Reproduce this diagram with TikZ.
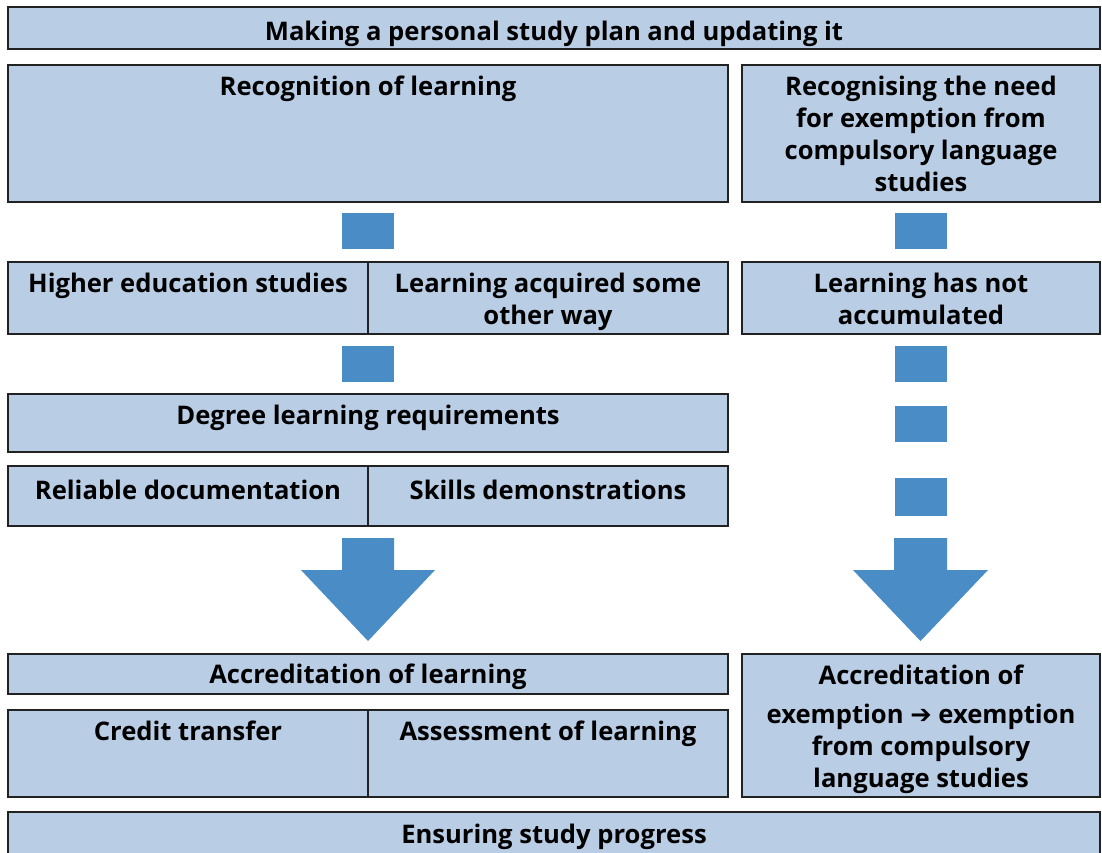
\documentclass[tikz,border=0pt]{standalone}
\usepackage{fontspec}
\setmainfont{Open Sans}
\newfontfamily\symfont{DejaVu Sans}
\usepackage{tikz}

\definecolor{boxfill}{HTML}{B9CDE5}
\definecolor{boxline}{HTML}{222222}
\definecolor{flowblue}{HTML}{4A8CC5}

\begin{document}
\begin{tikzpicture}[x=1pt, y=-1pt,
    box/.style={draw=boxline, line width=2pt, fill=boxfill, shape=rectangle, inner sep=0pt},
    txt/.style={anchor=base, align=center, inner sep=0pt, font=\bfseries\fontsize{25.6}{32}\selectfont},
    blk/.style={fill=flowblue, shape=rectangle, inner sep=0pt, minimum width=52pt}]
            \clip (0,0) rectangle (1102,852);
            \fill[white] (0,0) rectangle (1102,852);
            % top row
            \node[box, minimum width=1092pt, minimum height=42pt] (plan) at (554,28) {};
            \node[txt] (plan-t) at (554,40) {Making a personal study plan and updating it};
            % recognition
            \node[box, minimum width=720pt, minimum height=137pt] (recog) at (368,133.5) {};
            \node[txt] (recog-t) at (368,95) {Recognition of learning};
            \node[box, minimum width=358pt, minimum height=137pt] (need) at (921,133.5) {};
            \node[txt] (need-t) at (921,191) {Recognising the need\\for exemption from\\compulsory language\\studies};
            \node[blk, minimum height=36pt] (sq1) at (368,231) {};
            \node[blk, minimum height=36pt] (sq2) at (920.5,231) {};
            % kinds of learning
            \node[box, minimum width=360pt, minimum height=72pt] (hes) at (188,298) {};
            \node[txt] (hes-t) at (188,292) {Higher education studies};
            \node[box, minimum width=360pt, minimum height=72pt] (other) at (548,298) {};
            \node[txt] (other-t) at (548,324) {Learning acquired some\\other way};
            \node[box, minimum width=358pt, minimum height=72pt] (notacc) at (921,298) {};
            \node[txt] (notacc-t) at (921,324) {Learning has not\\accumulated};
            \node[blk, minimum height=36pt] (sq3) at (368,364) {};
            \node[blk, minimum height=36pt] (sq4) at (920.5,364) {};
            % requirements
            \node[box, minimum width=720pt, minimum height=58pt] (degree) at (368,423) {};
            \node[txt] (degree-t) at (368,424) {Degree learning requirements};
            \node[blk, minimum height=36pt] (sq5) at (920.5,424) {};
            \node[box, minimum width=360pt, minimum height=60pt] (reldoc) at (188,496) {};
            \node[txt] (reldoc-t) at (188,499) {Reliable documentation};
            \node[box, minimum width=360pt, minimum height=60pt] (skills) at (548,496) {};
            \node[txt] (skills-t) at (548,499) {Skills demonstrations};
            \node[blk, minimum height=38pt] (sq6) at (920.5,497) {};
            % big arrows
            \fill[flowblue] (342,538) -- (394,538) -- (394,570) -- (435,570) -- (368,641)
                -- (301,570) -- (342,570) -- cycle;
            \fill[flowblue] (894,538) -- (947,538) -- (947,570) -- (988,570) -- (920.5,641)
                -- (853,570) -- (894,570) -- cycle;
            % accreditation
            \node[box, minimum width=720pt, minimum height=40pt] (accr) at (368,674) {};
            \node[txt] (accr-t) at (368,683) {Accreditation of learning};
            \node[box, minimum width=360pt, minimum height=87pt] (credit) at (188,753.5) {};
            \node[txt] (credit-t) at (188,740) {Credit transfer};
            \node[box, minimum width=360pt, minimum height=87pt] (assess) at (548,753.5) {};
            \node[txt] (assess-t) at (548,740) {Assessment of learning};
            \node[box, minimum width=358pt, minimum height=143pt] (exempt) at (921,725.5) {};
            \node[txt] (exempt-t) at (921,787) {Accreditation of\\[7pt]exemption {\symfont\bfseries ➔} exemption\\from compulsory\\language studies};
            % bottom row
            \node[box, minimum width=1092pt, minimum height=52pt] (progress) at (554,838) {};
            \node[txt] (progress-t) at (554,843) {Ensuring study progress};
        \end{tikzpicture}
\end{document}
